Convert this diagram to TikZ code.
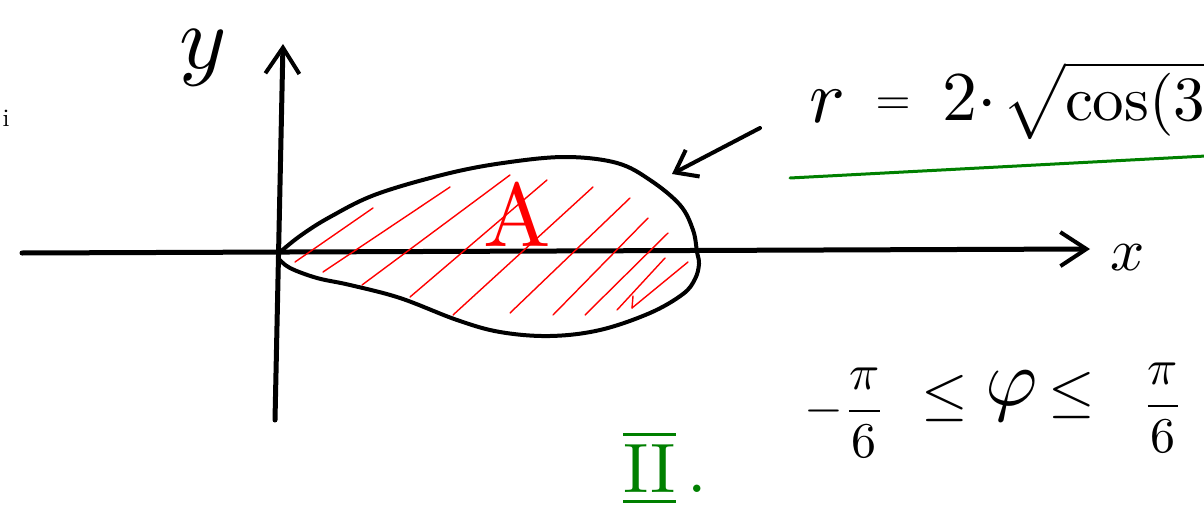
\documentclass[tikz,border=0pt]{standalone}
\usepackage{amsmath}
\usetikzlibrary{arrows.meta}
\definecolor{pengreen}{RGB}{0,128,0}
\definecolor{penred}{RGB}{255,0,0}
\tikzset{
  axisline/.style={line width=5pt},
  outline/.style={line width=4pt},
  hatch/.style={penred, line width=1.4pt},
  txt/.style={inner sep=0pt, outer sep=0pt},
  openhead/.style={-{Straight Barb[length=26pt,width=34pt,line width=4pt]}},
  smallhead/.style={-{Straight Barb[length=20pt,width=30pt,line width=4pt]}},
}
\begin{document}
\begin{tikzpicture}[x=1pt,y=-1pt,line cap=round,line join=round]
\clip (0,0) rectangle (1204,519);
\fill[white] (0,0) rectangle (1204,519);

% axes
\coordinate (xs) at (22,253);
\coordinate (xe) at (1090,249);
\coordinate (ys) at (275,420);
\coordinate (ye) at (283,44);
\draw[axisline,openhead] (xs) -- (xe);
\draw[axisline,openhead] (ys) -- (ye);
\node[txt,scale=9] (ylab) at (203,58) {$y$};
\node[txt,scale=6] (xlab) at (1128,258) {$x$};

% hatching
\draw[hatch] (295,262) -- (373,208);
\draw[hatch] (323,272) -- (450,187);
\draw[hatch] (362,285) -- (510,175);
\draw[hatch] (410,297) -- (547,180);
\draw[hatch] (453,315) -- (593,187);
\draw[hatch] (510,313) -- (630,198);
\draw[hatch] (553,315) -- (648,218);
\draw[hatch] (585,315) -- (668,233);
\draw[hatch] (617,310) -- (665,258);
\draw[hatch] (632,308) -- (688,262);
\draw[hatch] (633,296) -- (632,308);

% petal
\draw[outline] plot[smooth,tension=0.6] coordinates {
 (279,253) (300,236) (330,217) (377,194) (450,173) (510,162) (567,157)
 (617,163) (650,180) (680,205) (693,230) (697,252) (699,264) (695,279)
 (683,294) (650,313) (600,330) (550,336) (500,332) (457,320) (400,298)
 (350,285) (317,278) (290,268) (279,259)};

\node[txt,scale=9,text=penred] (A) at (517,214) {A};

% pointer arrow
\coordinate (ps) at (760,128);
\coordinate (pe) at (672,174);
\draw[line width=4pt,smallhead] (ps) -- (pe);

% green line
\coordinate (gs) at (790,178);
\coordinate (ge) at (1206,156);
\draw[pengreen,line width=3pt] (gs) -- (ge);

% formula
\node[txt,scale=7.5,anchor=base] (r) at (827,122) {$r$};
\node[txt,scale=4.5,anchor=base] (eq) at (893,114) {$=$};
\node[txt,scale=7,anchor=base] (two) at (970,120) {$2\cdot$};
\node[txt,scale=6.3,anchor=base west] (root) at (1002,120) {$\sqrt{\cos(3\varphi)}$};

% bounds
\node[txt,scale=5] (lo) at (845,413) {$-\dfrac{\pi}{6}$};
\node[txt,scale=6] (le1) at (945,398) {$\le$};
\node[txt,scale=8] (phi) at (1012,396) {$\varphi$};
\node[txt,scale=6] (le2) at (1072,395) {$\le$};
\node[txt,scale=5] (hi) at (1163,408) {$\dfrac{\pi}{6}$};

% roman numeral
\node[txt,scale=7,text=pengreen,anchor=base] (II) at (665,492) {$\overline{\underline{\mathrm{II}}}\,\mathrm{.}$};

% stray mark
\node[txt,scale=2.5] (i) at (6,118) {i};
\end{tikzpicture}
\end{document}
